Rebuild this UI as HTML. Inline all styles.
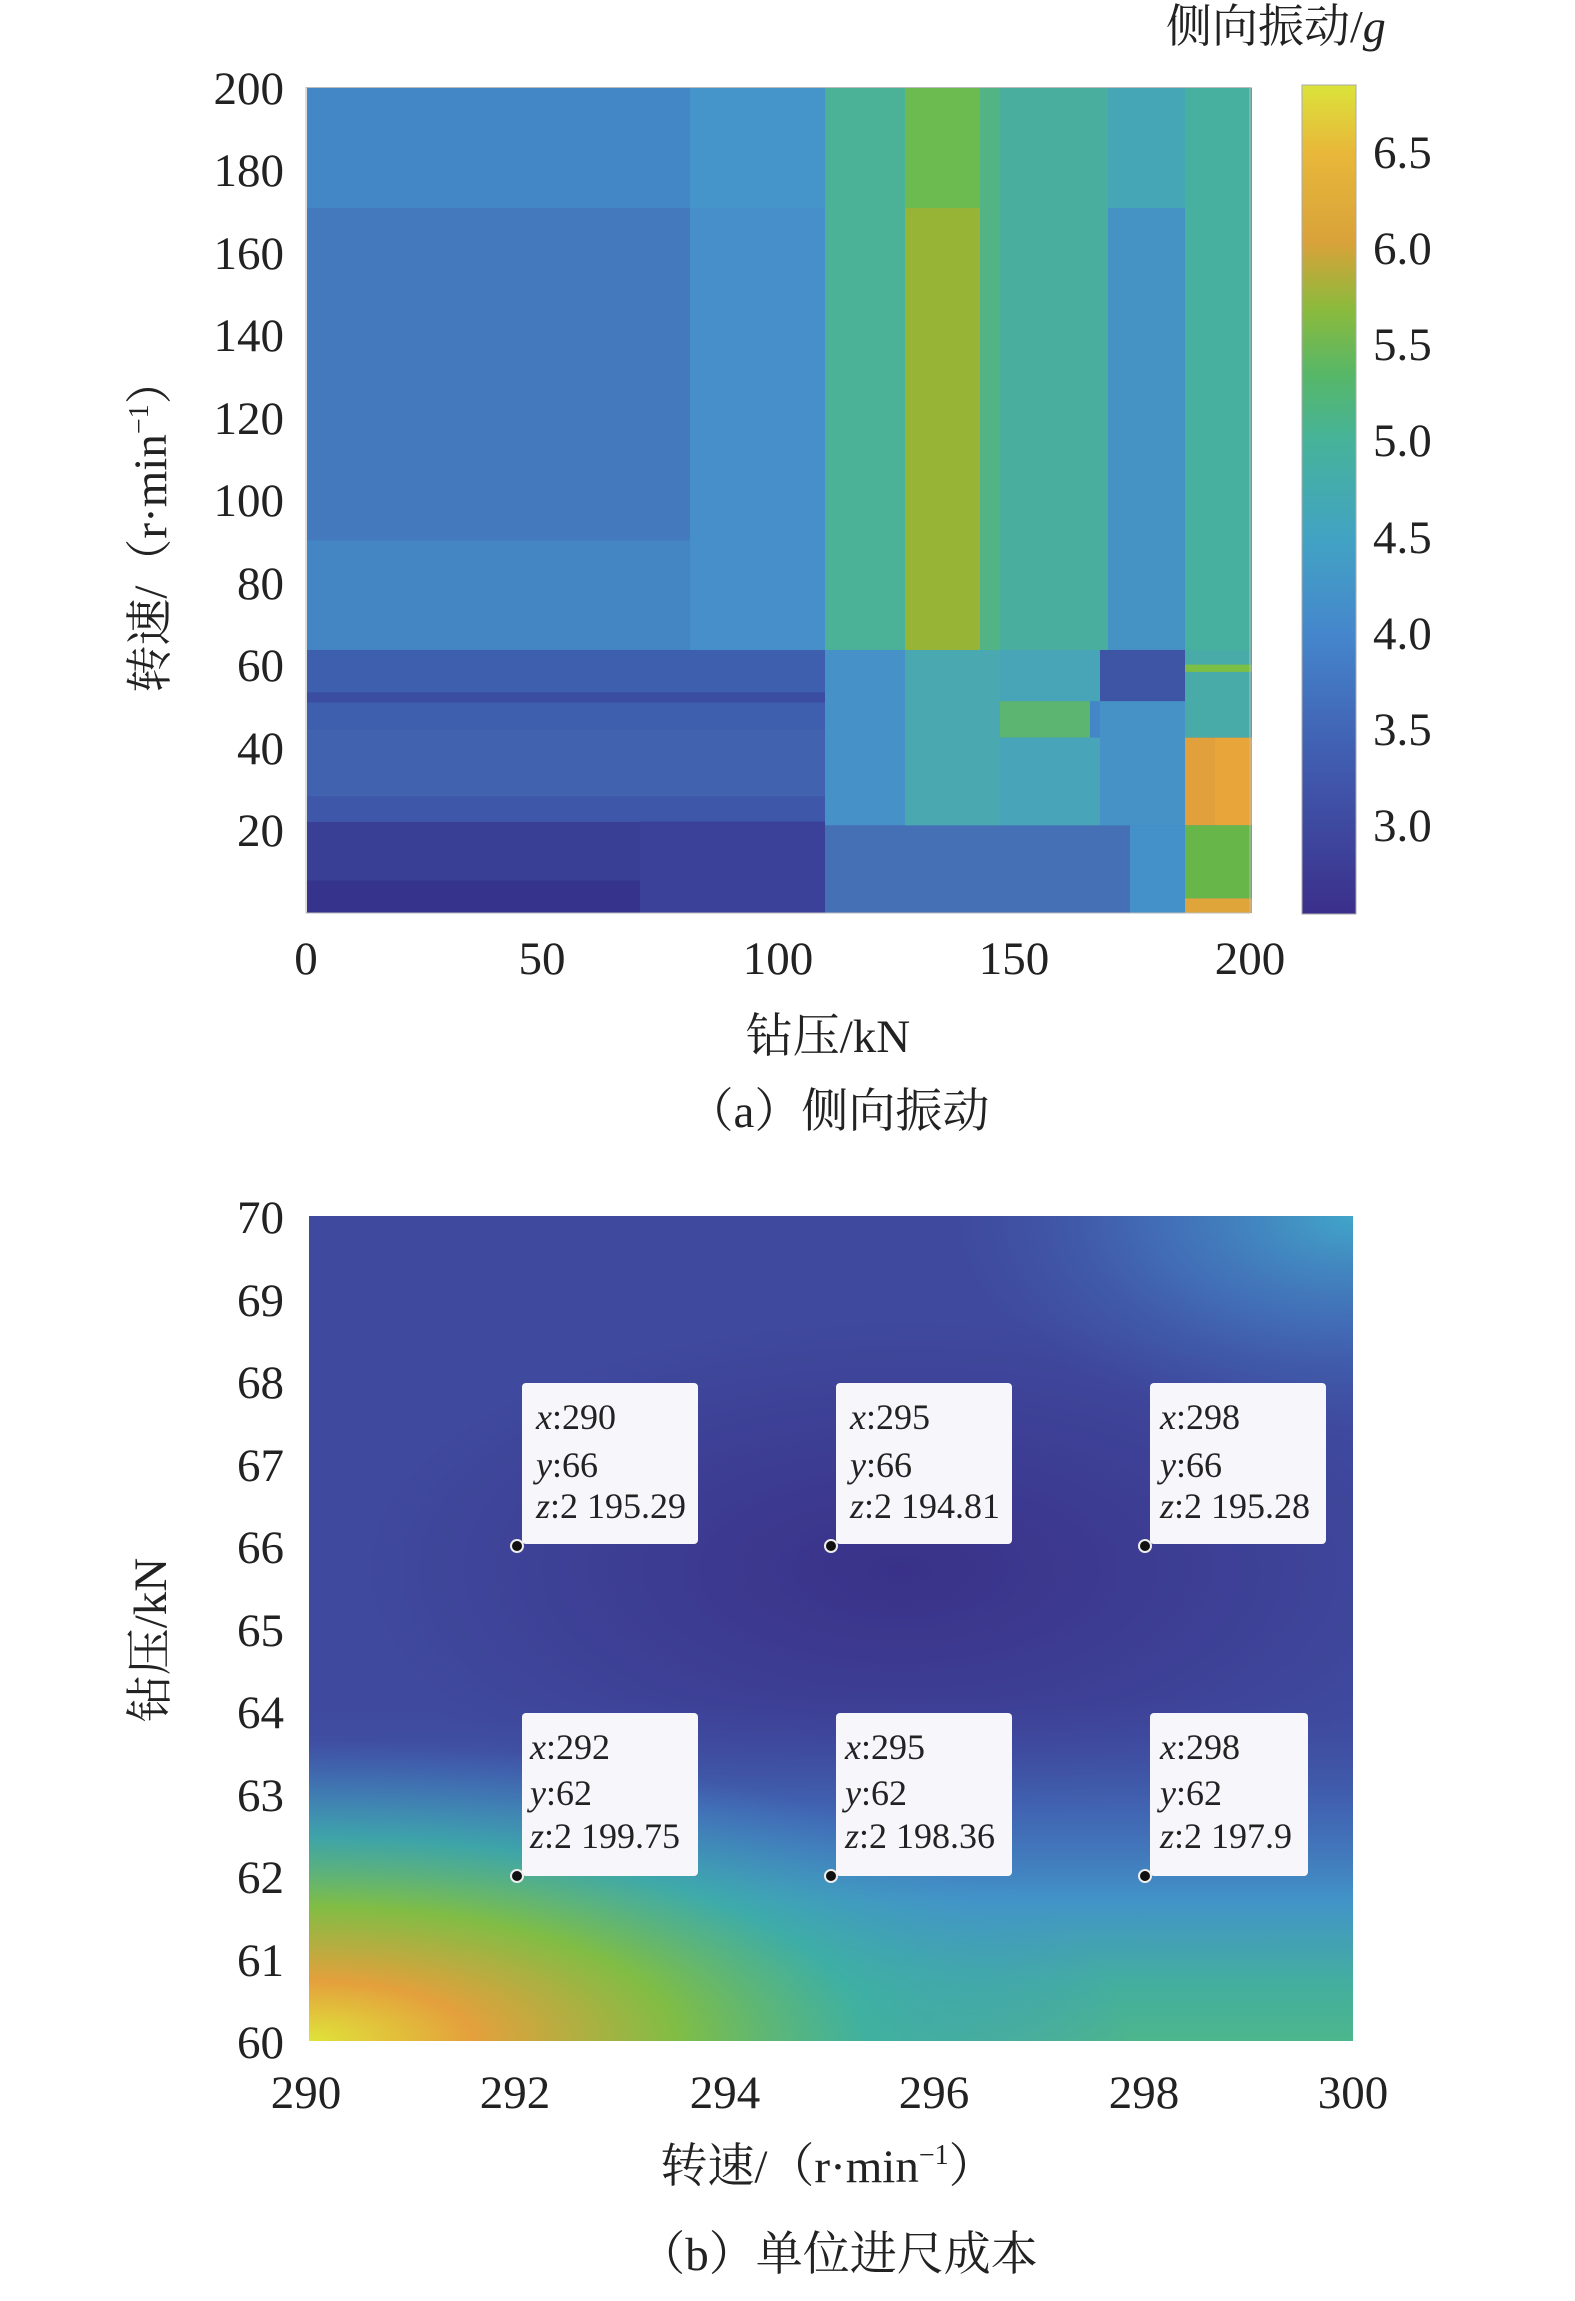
<!DOCTYPE html>
<html><head><meta charset="utf-8"><style>
html,body{margin:0;padding:0;background:#fff;}
svg{display:block;}
text{font-family:"Liberation Serif","Noto Serif CJK SC",serif;fill:#222;}
.t{font-size:47px;}
.tb{font-size:36px;font-style:italic;}
.tn{font-style:normal;}
</style></head><body>
<svg width="1575" height="2301" viewBox="0 0 1575 2301" xmlns="http://www.w3.org/2000/svg">
<defs>
<linearGradient id="cb" x1="0" y1="0" x2="0" y2="1">
<stop offset="0" stop-color="#dbe33a"/>
<stop offset="0.08" stop-color="#e8b83a"/>
<stop offset="0.19" stop-color="#d9a23a"/>
<stop offset="0.27" stop-color="#8bba3c"/>
<stop offset="0.35" stop-color="#56b768"/>
<stop offset="0.43" stop-color="#46b39a"/>
<stop offset="0.55" stop-color="#42a2c4"/>
<stop offset="0.66" stop-color="#4587cc"/>
<stop offset="0.80" stop-color="#4160b2"/>
<stop offset="1" stop-color="#3b2f8b"/>
</linearGradient>
<radialGradient id="bl" cx="309" cy="2041" r="1" gradientUnits="userSpaceOnUse" gradientTransform="translate(309 2041) scale(820 300) translate(-309 -2041)">
<stop offset="0" stop-color="#dfe33a"/>
<stop offset="0.2" stop-color="#e4a03c"/>
<stop offset="0.45" stop-color="#80bd45"/>
<stop offset="0.68" stop-color="#3db0a4" stop-opacity="0.8"/>
<stop offset="1" stop-color="#4290cf" stop-opacity="0"/>
</radialGradient>
<linearGradient id="bot" x1="0" y1="1" x2="0" y2="0">
<stop offset="0" stop-color="#4cb68c"/>
<stop offset="0.07" stop-color="#44ae9f"/>
<stop offset="0.17" stop-color="#4294c8"/>
<stop offset="0.28" stop-color="#4270bb" stop-opacity="0.7"/>
<stop offset="0.42" stop-color="#3f4a9e" stop-opacity="0"/>
</linearGradient>
<radialGradient id="tr" cx="1353" cy="1216" r="1" gradientUnits="userSpaceOnUse" gradientTransform="translate(1353 1216) scale(400 220) translate(-1353 -1216)">
<stop offset="0" stop-color="#41a6c9"/>
<stop offset="0.5" stop-color="#4483c6" stop-opacity="0.6"/>
<stop offset="1" stop-color="#4060ae" stop-opacity="0"/>
</radialGradient>
<radialGradient id="ct" cx="900" cy="1570" r="1" gradientUnits="userSpaceOnUse" gradientTransform="translate(900 1570) scale(560 260) translate(-900 -1570)">
<stop offset="0" stop-color="#3a3289"/>
<stop offset="1" stop-color="#3a3289" stop-opacity="0"/>
</radialGradient>
</defs>

<!-- Chart (a) -->
<g transform="translate(0 87.5) scale(1 0.7305) translate(0 -120)">
<rect x="307" y="120" width="945" height="1130" fill="#4487c6"/>
<rect x="690" y="120" width="135" height="770" fill="#4595ca"/>
<rect x="307" y="285" width="383" height="455" fill="#4579bd"/>
<rect x="307" y="740" width="383" height="150" fill="#4485c4"/>
<rect x="690" y="285" width="135" height="605" fill="#468fcb"/>
<rect x="825" y="120" width="80" height="770" fill="#4bb297"/>
<rect x="905" y="120" width="75" height="165" fill="#6cbb50"/>
<rect x="905" y="285" width="75" height="605" fill="#98b436"/>
<rect x="980" y="120" width="128" height="770" fill="#4aae9e"/>
<rect x="980" y="120" width="20" height="770" fill="#52b485"/>
<rect x="1108" y="120" width="77" height="165" fill="#45a6b6"/>
<rect x="1108" y="285" width="77" height="605" fill="#4592c5"/>
<rect x="1185" y="120" width="67" height="770" fill="#47b09e"/>
<rect x="307" y="890" width="518" height="110" fill="#3e5fae"/>
<rect x="307" y="948" width="600" height="14" fill="#3a4da0"/>
<rect x="307" y="1000" width="518" height="90" fill="#4162ae"/>
<rect x="307" y="1090" width="518" height="35" fill="#3f57a9"/>
<rect x="307" y="1125" width="518" height="80" fill="#3a3f96"/>
<rect x="307" y="1205" width="518" height="45" fill="#36338c"/>
<rect x="640" y="1125" width="185" height="125" fill="#3b4199"/>
<rect x="825" y="890" width="80" height="240" fill="#4791c9"/>
<rect x="825" y="1130" width="360" height="120" fill="#4570b5"/>
<rect x="905" y="890" width="95" height="240" fill="#4aa9b0"/>
<rect x="1000" y="890" width="100" height="70" fill="#47a5b7"/>
<rect x="1000" y="960" width="90" height="50" fill="#5cb571"/>
<rect x="1000" y="1010" width="100" height="120" fill="#48a4b9"/>
<rect x="1100" y="890" width="85" height="240" fill="#4691c5"/>
<rect x="1100" y="890" width="85" height="70" fill="#3e55a5"/>
<rect x="1130" y="1130" width="55" height="120" fill="#4391c8"/>
<rect x="1185" y="890" width="67" height="120" fill="#49aba8"/>
<rect x="1185" y="910" width="67" height="10" fill="#7cbf45"/>
<rect x="1185" y="1010" width="30" height="120" fill="#e2a03c"/>
<rect x="1215" y="1010" width="37" height="120" fill="#e8a63a"/>
<rect x="1185" y="1130" width="67" height="100" fill="#66b64a"/>
<rect x="1185" y="1230" width="67" height="20" fill="#e0a53a"/>
</g>
<rect x="306" y="87.5" width="944" height="825.5" fill="none" stroke="#bbb" stroke-width="1"/>

<rect x="1302" y="85" width="54" height="829" fill="url(#cb)" stroke="#aaa" stroke-width="1"/>
<g class="t">
<text x="1373" y="168">6.5</text>
<text x="1373" y="264">6.0</text>
<text x="1373" y="360">5.5</text>
<text x="1373" y="456">5.0</text>
<text x="1373" y="553">4.5</text>
<text x="1373" y="649">4.0</text>
<text x="1373" y="745">3.5</text>
<text x="1373" y="841">3.0</text>
</g>
<text x="1166" y="42" style="font-size:46px">侧向振动/<tspan font-style="italic">g</tspan></text>

<g class="t" text-anchor="end">
<text x="284" y="104">200</text>
<text x="284" y="186">180</text>
<text x="284" y="269">160</text>
<text x="284" y="351">140</text>
<text x="284" y="434">120</text>
<text x="284" y="516">100</text>
<text x="284" y="599">80</text>
<text x="284" y="681">60</text>
<text x="284" y="764">40</text>
<text x="284" y="846">20</text>
</g>
<g class="t" text-anchor="middle">
<text x="306" y="974">0</text>
<text x="542" y="974">50</text>
<text x="778" y="974">100</text>
<text x="1014" y="974">150</text>
<text x="1250" y="974">200</text>
<text x="828" y="1052">钻压/kN</text>
<text x="838" y="1127">（a）侧向振动</text>
</g>
<text class="t" transform="translate(166 525) rotate(-90)" text-anchor="middle">转速/（r·min<tspan dy="-18" font-size="28">−1</tspan><tspan dy="18">）</tspan></text>

<!-- Chart (b) -->
<rect x="309" y="1216" width="1044" height="825" fill="#3f4a9e"/>
<rect x="309" y="1216" width="1044" height="825" fill="url(#ct)"/>
<rect x="309" y="1216" width="1044" height="825" fill="url(#tr)"/>
<rect x="309" y="1216" width="1044" height="825" fill="url(#bot)"/>
<rect x="309" y="1216" width="1044" height="825" fill="url(#bl)"/>

<g class="t" text-anchor="end">
<text x="284" y="1233">70</text>
<text x="284" y="1316">69</text>
<text x="284" y="1398">68</text>
<text x="284" y="1481">67</text>
<text x="284" y="1563">66</text>
<text x="284" y="1646">65</text>
<text x="284" y="1728">64</text>
<text x="284" y="1811">63</text>
<text x="284" y="1893">62</text>
<text x="284" y="1976">61</text>
<text x="284" y="2058">60</text>
</g>
<g class="t" text-anchor="middle">
<text x="306" y="2108">290</text>
<text x="515" y="2108">292</text>
<text x="725" y="2108">294</text>
<text x="934" y="2108">296</text>
<text x="1144" y="2108">298</text>
<text x="1353" y="2108">300</text>
<text x="828" y="2182">转速/（r·min<tspan dy="-18" font-size="28">−1</tspan><tspan dy="18">）</tspan></text>
<text x="838" y="2270">（b）单位进尺成本</text>
</g>
<text class="t" transform="translate(166 1640) rotate(-90)" text-anchor="middle">钻压/kN</text>

<g>
<rect x="522" y="1383" width="176" height="161" rx="4" fill="#f7f7fb"/>
<rect x="836" y="1383" width="176" height="161" rx="4" fill="#f7f7fb"/>
<rect x="1150" y="1383" width="176" height="161" rx="4" fill="#f7f7fb"/>
<rect x="522" y="1713" width="176" height="163" rx="4" fill="#f7f7fb"/>
<rect x="836" y="1713" width="176" height="163" rx="4" fill="#f7f7fb"/>
<rect x="1150" y="1713" width="158" height="163" rx="4" fill="#f7f7fb"/>
</g>
<g class="tb">
<text x="536" y="1429">x<tspan class="tn">:290</tspan></text>
<text x="536" y="1477">y<tspan class="tn">:66</tspan></text>
<text x="536" y="1518">z<tspan class="tn">:2 195.29</tspan></text>
<text x="850" y="1429">x<tspan class="tn">:295</tspan></text>
<text x="850" y="1477">y<tspan class="tn">:66</tspan></text>
<text x="850" y="1518">z<tspan class="tn">:2 194.81</tspan></text>
<text x="1160" y="1429">x<tspan class="tn">:298</tspan></text>
<text x="1160" y="1477">y<tspan class="tn">:66</tspan></text>
<text x="1160" y="1518">z<tspan class="tn">:2 195.28</tspan></text>
<text x="530" y="1759">x<tspan class="tn">:292</tspan></text>
<text x="530" y="1805">y<tspan class="tn">:62</tspan></text>
<text x="530" y="1848">z<tspan class="tn">:2 199.75</tspan></text>
<text x="845" y="1759">x<tspan class="tn">:295</tspan></text>
<text x="845" y="1805">y<tspan class="tn">:62</tspan></text>
<text x="845" y="1848">z<tspan class="tn">:2 198.36</tspan></text>
<text x="1160" y="1759">x<tspan class="tn">:298</tspan></text>
<text x="1160" y="1805">y<tspan class="tn">:62</tspan></text>
<text x="1160" y="1848">z<tspan class="tn">:2 197.9</tspan></text>
</g>
<g fill="#111" stroke="#eee" stroke-width="2">
<circle cx="517" cy="1546" r="6"/>
<circle cx="831" cy="1546" r="6"/>
<circle cx="1145" cy="1546" r="6"/>
<circle cx="517" cy="1876" r="6"/>
<circle cx="831" cy="1876" r="6"/>
<circle cx="1145" cy="1876" r="6"/>
</g>
</svg>
</body></html>
